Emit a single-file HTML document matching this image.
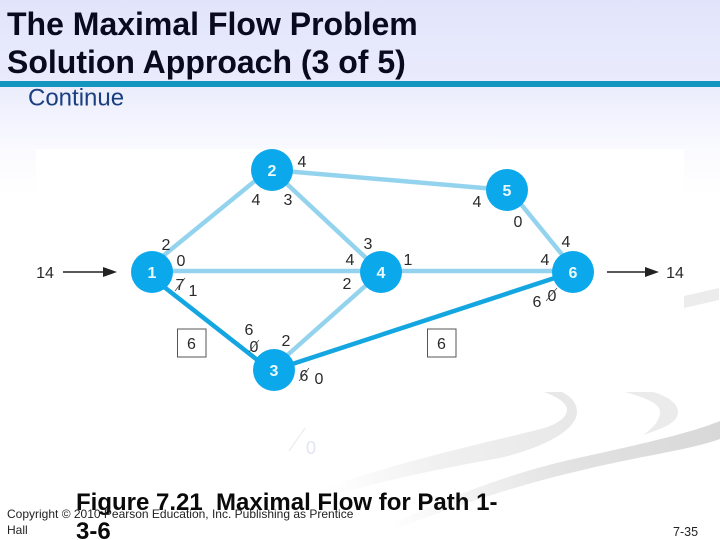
<!DOCTYPE html>
<html><head><meta charset="utf-8"><style>
html,body{margin:0;padding:0;background:#fff}
svg{display:block}
text{font-family:"Liberation Sans",Arial,sans-serif}
</style></head><body>
<svg width="720" height="540" viewBox="0 0 720 540" xmlns="http://www.w3.org/2000/svg">
<defs><linearGradient id="bg" x1="0" y1="0" x2="0" y2="1">
<stop offset="0" stop-color="#e2e4fb"/><stop offset="0.4" stop-color="#e9ebfc"/><stop offset="0.8" stop-color="#fbfbff"/><stop offset="1" stop-color="#fff"/></linearGradient>
<linearGradient id="sw1" gradientUnits="userSpaceOnUse" x1="570" y1="420" x2="330" y2="495"><stop offset="0" stop-color="#e8e8e8"/><stop offset="0.55" stop-color="#f0f0f0"/><stop offset="1" stop-color="#ffffff"/></linearGradient>
<linearGradient id="sw3" gradientUnits="userSpaceOnUse" x1="720" y1="430" x2="390" y2="530"><stop offset="0" stop-color="#d8d8d8"/><stop offset="0.45" stop-color="#e2e2e2"/><stop offset="1" stop-color="#ffffff"/></linearGradient>
</defs>
<rect width="720" height="540" fill="#fff"/>
<rect width="720" height="195" fill="url(#bg)"/>
<path d="M544 392C560 398 567 404 567 410C566 421 550 427 533 431C480 444 390 464 320 490L285 512C340 490 420 472 500 458C550 446 577 428 577 412C577 402 570 396 562 392Z" fill="url(#sw1)"/>
<path d="M625 392C650 399 661 405 660 413C659 422 652 429 643 435C665 428 678 422 678 412C678 403 667 396 653 392Z" fill="#ebebeb"/>
<path d="M720 421C690 433 650 442 587 456C540 466 480 482 385 527L385 533C470 500 530 482 587 469C640 456 690 450 720 439Z" fill="url(#sw3)"/>
<path d="M684 296L719 288V300L684 308Z" fill="#ececec"/>
<rect x="36" y="149" width="648" height="243" fill="#fff"/>
<rect y="81" width="720" height="6" fill="#1496c0"/>
<text x="7" y="35" font-size="32" font-weight="700" fill="#0a0a1e">The Maximal Flow Problem</text>
<text x="7" y="73" font-size="32" font-weight="700" fill="#0a0a1e">Solution Approach (3 of 5)</text>
<text x="28" y="105.500" font-size="24" fill="#1a3f80">Continue</text>

<g stroke="#94d3ee" stroke-width="4.500" fill="none">
<line x1="152" y1="265" x2="272" y2="167"/>
<line x1="272" y1="170" x2="381" y2="272"/>
<line x1="272" y1="170" x2="507" y2="190"/>
<line x1="152" y1="271" x2="573" y2="271"/>
<line x1="274" y1="367" x2="381" y2="272"/>
<line x1="507" y1="187" x2="573" y2="268"/>
</g>
<g stroke="#14a6e0" stroke-width="4.500" fill="none">
<line x1="152" y1="277.500" x2="274" y2="373"/>
<line x1="274" y1="370" x2="573" y2="272"/>
</g>
<g fill="#0ca8ec">
<circle cx="152" cy="272" r="21"/><circle cx="272" cy="170" r="21"/><circle cx="274" cy="370" r="21"/>
<circle cx="381" cy="272" r="21"/><circle cx="507" cy="190" r="21"/><circle cx="573" cy="272" r="21"/>
</g>
<g fill="#eafaff" font-size="16" font-weight="700" text-anchor="middle">
<text x="152" y="278">1</text><text x="272" y="176">2</text><text x="274" y="376">3</text>
<text x="381" y="278">4</text><text x="507" y="196">5</text><text x="573" y="278">6</text>
</g>

<g stroke="#222" stroke-width="1.600"><line x1="63" y1="272" x2="106" y2="272"/><line x1="607" y1="272" x2="648" y2="272"/></g>
<path d="M103 267L117 272L103 277Z" fill="#222"/><path d="M645 267L659 272L645 277Z" fill="#222"/>

<g fill="#fff" stroke="#555" stroke-width="1"><rect x="177.500" y="329" width="28.500" height="28"/><rect x="427.500" y="329" width="28.500" height="28"/></g>

<g fill="#2a2a2a" font-size="16" text-anchor="middle">
<text x="45" y="278">14</text><text x="675" y="278">14</text>
<text x="302" y="167">4</text><text x="256" y="205">4</text><text x="288" y="205">3</text>
<text x="166" y="250">2</text><text x="181" y="266">0</text><text x="180" y="290">7</text><text x="193" y="296">1</text>
<text x="350" y="265">4</text><text x="347" y="289">2</text>
<text x="249" y="335">6</text><text x="254" y="352">0</text><text x="286" y="346">2</text>
<text x="304" y="381">6</text><text x="319" y="384">0</text>
<text x="477" y="207">4</text><text x="518" y="227">0</text><text x="368" y="249">3</text><text x="408" y="265">1</text>
<text x="545" y="265">4</text><text x="566" y="247">4</text><text x="537" y="307">6</text><text x="552" y="301">0</text>
<text x="191.500" y="349">6</text><text x="441.500" y="349">6</text>
</g>
<g stroke="#444" stroke-width="0.700">
<line x1="175" y1="291" x2="185" y2="278"/><line x1="249" y1="352" x2="259" y2="340"/>
<line x1="299" y1="381" x2="309" y2="368"/><line x1="546" y1="301" x2="557" y2="288"/>
</g>

<line x1="289" y1="451" x2="305" y2="428" stroke="#e6e7f0" stroke-width="1"/>
<text x="311" y="454" font-size="18" fill="#e2e4f4" text-anchor="middle">0</text>

<text x="76" y="510" font-size="24" font-weight="700" fill="#0a0a0a" xml:space="preserve">Figure 7.21  Maximal Flow for Path 1-</text>
<text x="76" y="539" font-size="24" font-weight="700" fill="#0a0a0a">3-6</text>
<text x="7" y="518" font-size="12" fill="#222">Copyright © 2010 Pearson Education, Inc. Publishing as Prentice</text>
<text x="7" y="534" font-size="12" fill="#222">Hall</text>
<text x="673" y="536" font-size="12.500" fill="#222">7-35</text>
</svg>
</body></html>
